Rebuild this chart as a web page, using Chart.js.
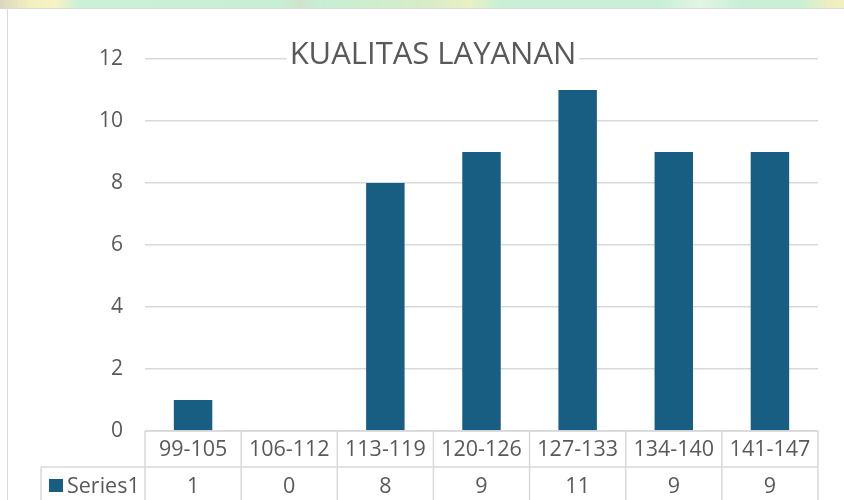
<!DOCTYPE html>
<html>
<head>
<meta charset="utf-8">
<script src="https://cdn.jsdelivr.net/npm/chart.js@4.4.0/dist/chart.umd.min.js"></script>
<style>
  html, body { margin: 0; padding: 0; background: #fff; }
  #wrap { position: relative; width: 844px; height: 500px; overflow: hidden; }
  #strip {
    position: absolute; left: 0; top: 0; width: 844px; height: 9px;
    background: linear-gradient(90deg, #d9d6c0 0px, #f4efbe 30px, #f6f2c4 55px, #c9f1d6 80px,
      #c6efd3 280px, #cfe3cb 300px, #c6efd3 320px, #d8ecc8 430px, #eaf0c3 470px, #c8f0d6 500px,
      #c8f0d6 660px, #e3f4e3 700px, #c8f0d6 740px, #c9f0d3 800px, #efeec0 830px, #f3efc0 844px);
  }
  #frame {
    position: absolute; left: 7px; top: 8px; width: 900px; height: 600px;
    border: 1.5px solid #d9d9d9; background: #fff;
  }
  canvas { position: absolute; left: 0; top: 0; }
</style>
</head>
<body>
<div id="wrap">
  <div id="strip"></div>
  <div id="frame"></div>
  <canvas id="chart" width="844" height="500"></canvas>
</div>
<script>
// data
const categories = ['99-105', '106-112', '113-119', '120-126', '127-133', '134-140', '141-147'];
const series1 = [1, 0, 8, 9, 11, 9, 9];
const seriesName = 'Series1';
const chartTitle = 'KUALITAS LAYANAN';

const textColor = '#595959';
const lineColor = '#d9d9d9';
const barColor = '#175e82';
const fontFamily = "'Open Sans', 'Liberation Sans', sans-serif";

// title + data table under the plot, drawn from the chart's own x scale
const tablePlugin = {
  id: 'dataTable',
  afterDraw(chart) {
    const ctx = chart.ctx;
    const x = chart.scales.x;
    const area = chart.chartArea;
    const n = categories.length;
    const colW = (area.right - area.left) / n;
    const row1Top = area.bottom;
    const row2Top = area.bottom + 36;
    const bottom = 500;
    const rowLeft = 41;

    ctx.save();
    // title with a white box behind it, the way the gridline is hidden
    ctx.font = '31px ' + fontFamily;
    const tw = ctx.measureText(chartTitle).width;
    ctx.fillStyle = '#fff';
    ctx.fillRect(433 - tw / 2 - 3, 36, tw + 6, 32);
    ctx.fillStyle = textColor;
    ctx.textAlign = 'center';
    ctx.textBaseline = 'alphabetic';
    ctx.fillText(chartTitle, 433, 64);

    // table lines
    ctx.strokeStyle = lineColor;
    ctx.lineWidth = 1.5;
    ctx.beginPath();
    ctx.moveTo(area.left, row1Top);
    ctx.lineTo(area.right, row1Top);
    ctx.moveTo(rowLeft, row2Top);
    ctx.lineTo(area.right, row2Top);
    ctx.moveTo(rowLeft, row2Top);
    ctx.lineTo(rowLeft, bottom);
    for (let i = 0; i <= n; i++) {
      const bx = area.left + i * colW;
      ctx.moveTo(bx, row1Top);
      ctx.lineTo(bx, bottom);
    }
    ctx.stroke();

    // table text
    ctx.font = '21.5px ' + fontFamily;
    ctx.fillStyle = textColor;
    ctx.textAlign = 'center';
    ctx.textBaseline = 'middle';
    categories.forEach((c, i) => {
      const cx = x.getPixelForValue(i);
      ctx.fillText(c, cx, row1Top + 19);
      ctx.fillText(String(series1[i]), cx, row2Top + 20);
    });

    // legend key + series name
    ctx.fillStyle = barColor;
    ctx.fillRect(49, 479, 14, 13);
    ctx.fillStyle = textColor;
    ctx.textAlign = 'left';
    ctx.fillText(seriesName, 67, row2Top + 20);
    ctx.restore();
  }
};

new Chart(document.getElementById('chart'), {
  type: 'bar',
  data: {
    labels: categories,
    datasets: [{
      label: seriesName,
      data: series1,
      backgroundColor: barColor,
      categoryPercentage: 1,
      barPercentage: 0.4
    }]
  },
  options: {
    responsive: false,
    animation: false,
    devicePixelRatio: 1,
    layout: { padding: { top: 59, right: 26, bottom: 0, left: 0 } },
    plugins: {
      legend: { display: false },
      title: { display: false },
      tooltip: { enabled: false }
    },
    scales: {
      x: {
        ticks: { display: false },
        grid: { display: false },
        border: { display: false },
        afterFit(s) { s.height = 69; }
      },
      y: {
        min: 0,
        max: 12,
        ticks: {
          stepSize: 2,
          padding: 22,
          color: textColor,
          font: { family: fontFamily, size: 21 }
        },
        grid: { color: lineColor, lineWidth: 1.5, drawTicks: false },
        border: { display: false },
        afterFit(s) { s.width = 145; }
      }
    }
  },
  plugins: [tablePlugin]
});
</script>
</body>
</html>
